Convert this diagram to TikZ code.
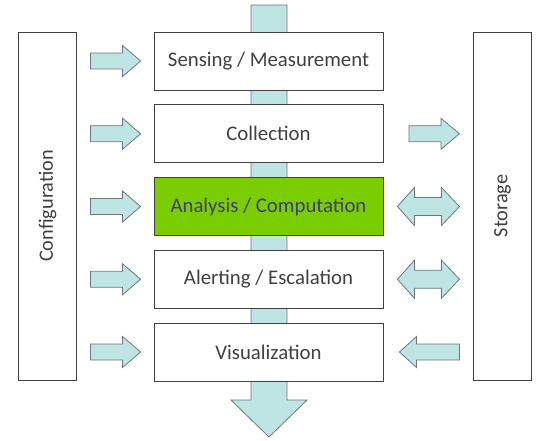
\documentclass[tikz,border=0pt]{standalone}
\usepackage{fontspec}
\setmainfont{Carlito}
\definecolor{arrfill}{RGB}{190,228,228}
\definecolor{arrdraw}{RGB}{110,120,120}
\definecolor{boxdraw}{RGB}{64,64,64}
\definecolor{txt}{RGB}{64,64,64}
\definecolor{grn}{RGB}{122,206,0}
\definecolor{grntxt}{RGB}{64,60,120}
\begin{document}
\begin{tikzpicture}[x=1pt,y=-1pt,
  stage/.style={draw=boxdraw, line width=0.9pt, fill=white, minimum width=229pt, minimum height=58pt, inner sep=0pt, text=txt, font=\fontsize{20.8}{24}\selectfont},
  side/.style={draw=boxdraw, line width=0.9pt, fill=white, minimum width=58pt, minimum height=348pt, inner sep=0pt},
  sidetext/.style={rotate=90, text=txt, font=\fontsize{20.3}{24}\selectfont},
  blk/.style={draw=arrdraw, fill=arrfill, line width=0.8pt, line join=miter}]
\useasboundingbox (0,0) rectangle (538,441);
% central band and bottom arrow
\draw[blk] (251,5) -- (287,5) -- (287,400) -- (307,400) -- (269,437) -- (231,400) -- (251,400) -- cycle;
% side boxes
\node[side] (conf) at (47.5,206) {};
\node[sidetext] (conft) at (conf.center) {Configuration};
\node[side] (stor) at (502.5,206) {};
\node[sidetext] (stort) at (stor.center) {Storage};
% stages
\node[stage] (s1) at (268.5,61) {Sensing / Measurement};
\node[stage] (s2) at (268.5,133.75) {Collection};
\node[stage, fill=grn, text=grntxt] (s3) at (268.5,206.5) {Analysis / Computation};
\node[stage] (s4) at (268.5,279.25) {Alerting / Escalation};
\node[stage] (s5) at (268.5,352) {Visualization};
% left arrows
\foreach \n in {s1,s2,s3,s4,s5}{
  \path (\n.west) ++(-13,0) coordinate (tip\n);
  \draw[blk] (tip\n) ++(-50,-8) -- ++(32,0) -- ++(0,-7.5) -- ++(18,15.5) -- ++(-18,15.5) -- ++(0,-7.5) -- ++(-32,0) -- cycle;
}
% right arrows
\path (s2.east) ++(25.5,0) coordinate (r2);
\draw[blk] (r2) ++(0,-8) -- ++(32,0) -- ++(0,-7.5) -- ++(18.5,15.5) -- ++(-18.5,15.5) -- ++(0,-7.5) -- ++(-32,0) -- cycle;
\foreach \n in {s3,s4}{
  \path (\n.east) ++(14,0) coordinate (d\n);
  \draw[blk] (d\n) -- ++(17,-19) -- ++(0,10) -- ++(27,0) -- ++(0,-10) -- ++(18,19) -- ++(-18,19) -- ++(0,-10) -- ++(-27,0) -- ++(0,10) -- cycle;
}
\path (s5.east) ++(16,0) coordinate (l5);
\draw[blk] (l5) -- ++(17,-15.5) -- ++(0,7.5) -- ++(43,0) -- ++(0,16) -- ++(-43,0) -- ++(0,7.5) -- cycle;
\end{tikzpicture}
\end{document}
